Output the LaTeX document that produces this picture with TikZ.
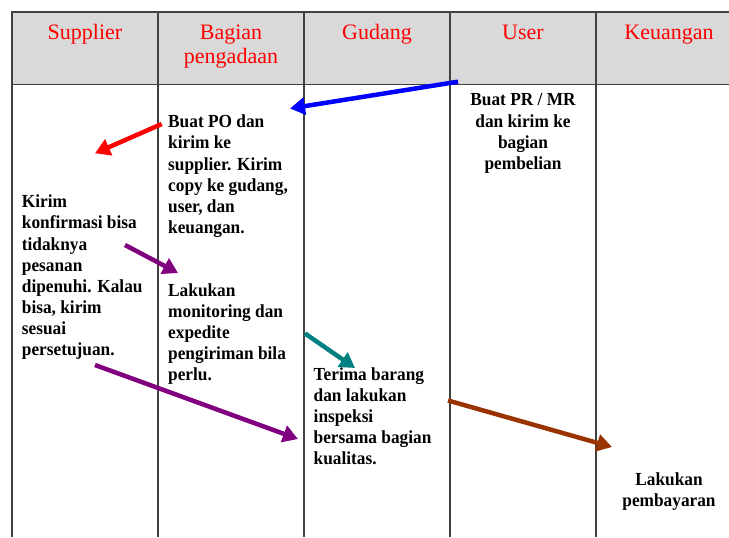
\documentclass[tikz,border=0pt]{standalone}
\usepackage{fontspec}
\setmainfont{Liberation Serif}
\newfontfamily\bodyfont[FakeStretch=0.94]{Liberation Serif}
\usetikzlibrary{arrows.meta}
\definecolor{hdrgray}{HTML}{D9D9D9}
\definecolor{gridline}{HTML}{404040}
\definecolor{purp}{HTML}{800080}
\definecolor{tealc}{HTML}{008080}
\definecolor{brownc}{HTML}{993300}
\begin{document}
\begin{tikzpicture}[x=1pt,y=-1pt,
  hdr/.style={font=\fontsize{22}{24.5}\selectfont, text=red, align=center, inner sep=0, anchor=north},
  body/.style={font=\bodyfont\fontsize{18.4}{21.1}\selectfont\bfseries, align=left, inner sep=0, anchor=north west},
  bodyc/.style={font=\bodyfont\fontsize{18.4}{21.1}\selectfont\bfseries, align=center, inner sep=0, anchor=north},
  flow/.style={line width=4.5pt, -{Triangle[length=15pt,width=17pt]}},
  gridln/.style={draw=gridline, line width=1.3pt}]
\useasboundingbox (0,0) rectangle (729,538);
% header band and table lines
\fill[hdrgray] (12,12) rectangle (729,84.5);
\draw[gridln] (729,12) -- (12,12) -- (12,537);
\draw[gridln] (12,84.5) -- (729,84.5);
\foreach \x in {158,304,450,596} \draw[gridln] (\x,12) -- (\x,537);
% headers
\node[hdr] (hsup) at (85,24.5) {Supplier};
\node[hdr] (hbag) at (231,24.5) {Bagian\\pengadaan};
\node[hdr] (hgud) at (377,24.5) {Gudang};
\node[hdr] (husr) at (523,24.5) {User};
\node[hdr] (hkeu) at (669,24.5) {Keuangan};
% body texts
\node[bodyc] (tuser) at (523,93.6) {Buat PR / MR\\dan kirim ke\\bagian\\pembelian};
\node[body] (tpo) at (168,114.9) {Buat PO dan\\kirim ke\\supplier. Kirim\\copy ke gudang,\\user, dan\\keuangan.};
\node[body] (tkonf) at (21.7,194.9) {Kirim\\konfirmasi bisa\\tidaknya\\pesanan\\dipenuhi. Kalau\\bisa, kirim\\sesuai\\persetujuan.};
\node[body] (tmon) at (168,283.3) {Lakukan\\monitoring dan\\expedite\\pengiriman bila\\perlu.};
\node[body] (tterima) at (313.5,367.1) {Terima barang\\dan lakukan\\inspeksi\\bersama bagian\\kualitas.};
\node[bodyc] (tbayar) at (669,472.5) {Lakukan\\pembayaran};
% arrow end points
\coordinate (b1) at (458,81.7);  \coordinate (b2) at (290,108.5);
\coordinate (r1) at (161.7,124); \coordinate (r2) at (95,153.3);
\coordinate (p1) at (125,245);   \coordinate (p2) at (178,273);
\coordinate (t1) at (305,333.5); \coordinate (t2) at (355,368);
\coordinate (q1) at (95,365);    \coordinate (q2) at (298,439);
\coordinate (c1) at (448,400.5); \coordinate (c2) at (612,447);
\draw[flow,blue] (b1) -- (b2);
\draw[flow,red] (r1) -- (r2);
\draw[flow,purp] (p1) -- (p2);
\draw[flow,tealc] (t1) -- (t2);
\draw[flow,purp] (q1) -- (q2);
\draw[flow,brownc] (c1) -- (c2);
\end{tikzpicture}
\end{document}
